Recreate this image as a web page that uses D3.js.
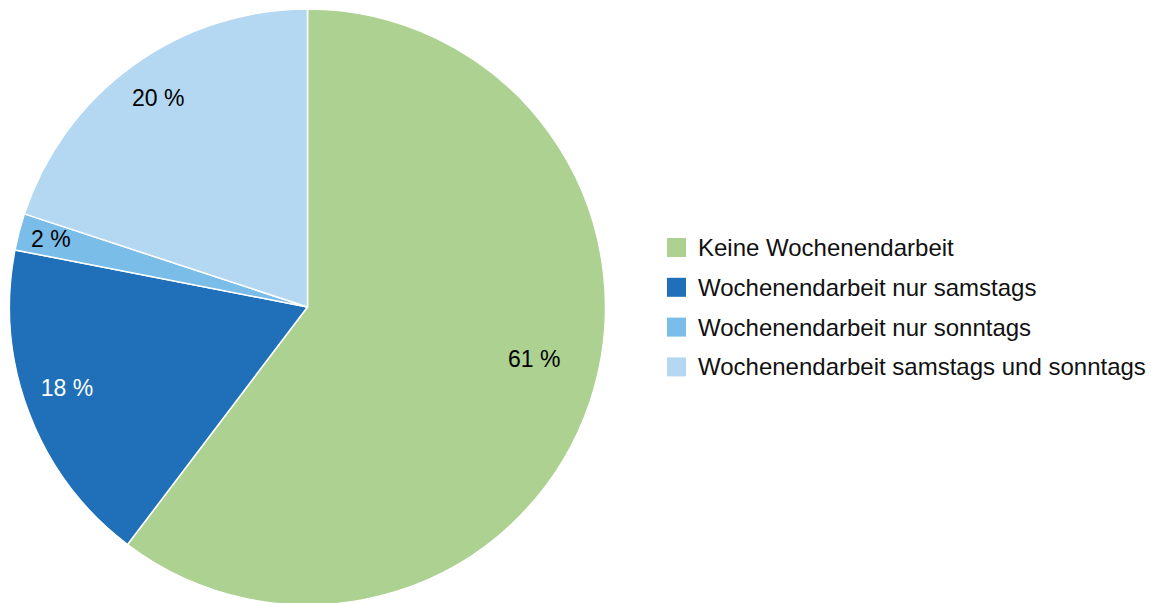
<!DOCTYPE html>
<html>
<head>
<meta charset="utf-8">
<script src="https://cdn.jsdelivr.net/npm/d3@7"></script>
<style>
  html, body { margin: 0; padding: 0; background: #fff; }
  svg { display: block; }
</style>
</head>
<body>
<svg id="chart" width="1151" height="603"></svg>
<script>
const categories = [
  "Keine Wochenendarbeit",
  "Wochenendarbeit nur samstags",
  "Wochenendarbeit nur sonntags",
  "Wochenendarbeit samstags und sonntags"
];
const values = [60.5, 17.8, 2.0, 20.0];
const valueLabels = ["61 %", "18 %", "2 %", "20 %"];
const colors = ["#acd190", "#1f70b8", "#79bde8", "#b5d8f2"];
const labelColors = ["#000", "#fff", "#000", "#000"];
// label placement tweaks (radius fraction, angle shift in degrees)
const labelRadius = [0.781, 0.852, 0.891, 0.861];
const labelShift = [-5.6, 2.3, 0.2, 0.3];

const svg = d3.select("#chart");
const cx = 307.5, cy = 307, R = 298;
const g = svg.append("g").attr("transform", `translate(${cx},${cy})`);

const data = categories.map((c, i) => ({ cat: c, value: values[i], i }));
const pie = d3.pie().value(d => d.value).sort(null);
const arcs = pie(data);
const arc = d3.arc().innerRadius(0).outerRadius(R);

g.selectAll("path.slice").data(arcs).enter().append("path")
  .attr("class", "slice")
  .attr("d", arc)
  .attr("fill", d => colors[d.data.i])
  .attr("stroke", "#fff")
  .attr("stroke-width", 1.5)
  .attr("stroke-linejoin", "round");

function labelAngle(d) {
  return (d.startAngle + d.endAngle) / 2 + labelShift[d.data.i] * Math.PI / 180;
}

g.selectAll("text.lbl").data(arcs).enter().append("text")
  .attr("class", "lbl")
  .attr("x", d => Math.sin(labelAngle(d)) * R * labelRadius[d.data.i])
  .attr("y", d => -Math.cos(labelAngle(d)) * R * labelRadius[d.data.i])
  .attr("text-anchor", "middle")
  .attr("dominant-baseline", "central")
  .attr("font-family", "Liberation Sans, Arial, sans-serif")
  .attr("font-size", 23)
  .attr("fill", d => labelColors[d.data.i])
  .text(d => valueLabels[d.data.i]);

// legend
const legend = svg.append("g").attr("transform", "translate(667,238)");
const row = legend.selectAll("g.row").data(categories).enter().append("g")
  .attr("class", "row")
  .attr("transform", (d, i) => `translate(0,${i * 39.8})`);
row.append("rect")
  .attr("width", 19).attr("height", 19)
  .attr("fill", (d, i) => colors[i]);
row.append("text")
  .attr("x", 31).attr("y", 9.5)
  .attr("dominant-baseline", "central")
  .attr("font-family", "Liberation Sans, Arial, sans-serif")
  .attr("font-size", 24)
  .attr("fill", "#111")
  .text(d => d);
</script>
</body>
</html>
